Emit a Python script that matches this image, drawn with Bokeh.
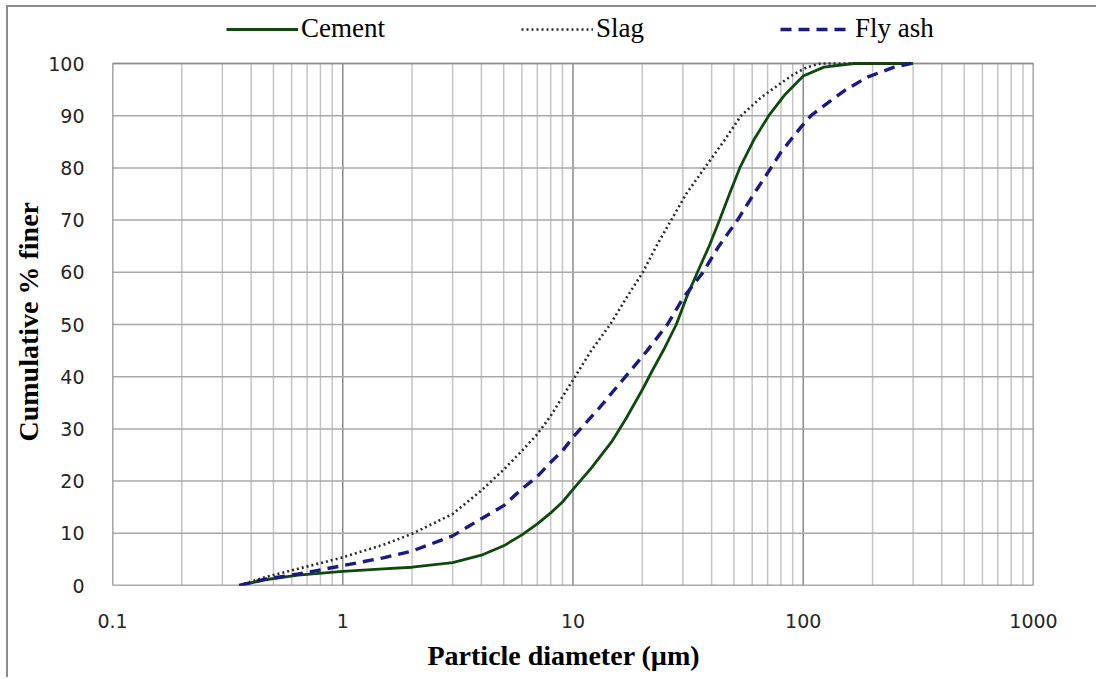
from bokeh.plotting import figure
from bokeh.models import FixedTicker, Legend, LegendItem, Title
from bokeh.embed import file_html
from bokeh.resources import INLINE

# ---- data ----
cement_x = [0.355, 0.46, 0.64, 1, 1.5, 2, 3, 4, 5, 6, 7, 8, 9, 10, 12, 14.7, 17, 20, 22, 25, 28.1, 31, 34.7, 39, 43.3, 48, 53, 61.4, 70.8, 82.8, 100, 123, 166, 220, 300]
cement_y = [0, 1.1, 2.0, 2.7, 3.2, 3.5, 4.4, 5.8, 7.6, 9.7, 11.8, 13.9, 16.0, 18.4, 22.5, 27.5, 32, 37.5, 41, 45.5, 50, 55, 60, 65, 70, 75.2, 80, 85.6, 90, 93.9, 97.6, 99.3, 100, 100, 100]

slag_x = [0.355, 0.46, 0.64, 1, 1.5, 2, 3, 4, 5, 6, 7, 8, 10.2, 12, 14.5, 17, 20.1, 23, 26.7, 31, 37.3, 45, 53.7, 65.6, 77.4, 91.4, 104, 119, 200, 300]
slag_y = [0, 1.6, 3.2, 5.4, 7.8, 9.9, 13.7, 18.2, 22.2, 25.8, 29, 32.5, 40, 45, 50, 55, 60, 65, 70, 75, 80, 85, 90, 93.5, 95.8, 98, 99.3, 100, 100, 100]

fly_x = [0.355, 0.46, 0.64, 1, 1.5, 2, 3, 4, 5, 6, 7, 8, 9, 10, 13, 16.9, 21, 25.7, 30, 36.7, 43, 51.8, 61, 72.4, 80, 97.7, 108, 130, 151, 190, 248, 293]
fly_y = [0, 1.2, 2.2, 3.8, 5.3, 6.6, 9.5, 12.8, 15.3, 18.5, 20.9, 23.6, 25.8, 28.4, 34, 40, 45, 50, 55, 60, 65, 70, 75, 80, 83, 87.8, 90, 92.7, 94.8, 97.4, 99.3, 100]

series_labels = ["Cement", "Slag", "Fly ash"]
x_title = "Particle diameter (µm)"
y_title = "Cumulative % finer"
x_major_ticks = [0.1, 1, 10, 100, 1000]
x_tick_labels = ["0.1", "1", "10", "100", "1000"]
y_ticks = [0, 10, 20, 30, 40, 50, 60, 70, 80, 90, 100]
x_minor_ticks = [m * d for d in [0.1, 1, 10, 100] for m in range(2, 10)]

x_lo, x_hi = x_major_ticks[0], x_major_ticks[-1]
y_lo, y_hi = y_ticks[0], y_ticks[-1]

W, H = 1090, 672
BOTTOM = 94
PLOT_PX = 522            # pixel height of the 0..100 band
frame_h = H - BOTTOM     # frame runs to the top of the canvas (room for legend)
y_end = y_hi * frame_h / PLOT_PX

p = figure(width=W, height=H, x_axis_type="log", x_range=(x_lo, x_hi), y_range=(y_lo, y_end),
           output_backend="svg", toolbar_location=None,
           min_border_left=102, min_border_right=65, min_border_top=0, min_border_bottom=BOTTOM)
p.styles = {"margin-left": "6px", "margin-top": "5px",
            "border-left": "2px solid #8c8c8c", "border-top": "2px solid #8c8c8c"}
p.background_fill_color = "white"
p.border_fill_color = "white"
p.outline_line_color = None
p.xgrid.visible = False
p.ygrid.visible = False

# grid lines limited to the 0..100 band
n_minor = len(x_minor_ticks)
p.segment(x0=x_minor_ticks, x1=x_minor_ticks, y0=[y_lo] * n_minor, y1=[y_hi] * n_minor,
          line_color="#c4c4c4", line_width=1.5)
n_major = len(x_major_ticks)
p.segment(x0=x_major_ticks, x1=x_major_ticks, y0=[y_lo] * n_major, y1=[y_hi] * n_major,
          line_color="#8a8a8a", line_width=1.5)
n_y = len(y_ticks)
p.segment(x0=[x_lo] * n_y, x1=[x_hi] * n_y, y0=y_ticks, y1=y_ticks,
          line_color="#a8a8a8", line_width=1.5)
p.quad(left=[x_lo], right=[x_hi], bottom=[y_lo], top=[y_hi],
       fill_color=None, line_color="#8c8c8c", line_width=1.5)

# axes
p.xaxis.ticker = FixedTicker(ticks=x_major_ticks)
p.xaxis.major_label_overrides = {t: l for t, l in zip(x_major_ticks, x_tick_labels)}
p.yaxis.ticker = FixedTicker(ticks=y_ticks)
for ax in (p.xaxis[0], p.yaxis[0]):
    ax.axis_line_color = None
    ax.major_tick_line_color = None
    ax.minor_tick_line_color = None
    ax.major_label_text_font = "DejaVu Sans"
    ax.major_label_text_font_size = "19px"
    ax.major_label_text_color = "#262626"
p.xaxis.major_label_standoff = 22
p.yaxis.major_label_standoff = 22

# axis titles as side-panel titles, positioned along the 0..100 band
yt = Title(text=y_title, align="left", offset=144, standoff=4,
           text_font="Liberation Serif", text_font_style="bold",
           text_font_size="28px", text_color="#000000")
p.add_layout(yt, "left")
xt = Title(text=x_title, align="left", offset=315, standoff=15,
           text_font="Liberation Serif", text_font_style="bold",
           text_font_size="28px", text_color="#000000")
p.add_layout(xt, "below")

# lines
r_cement = p.line(cement_x, cement_y, line_color="#0e4a0e", line_width=2.8)
r_slag = p.line(slag_x, slag_y, line_color="#2b2b2b", line_width=2.6, line_dash="2 3")
r_fly = p.line(fly_x, fly_y, line_color="#1a1a80", line_width=3.4, line_dash="11 7")

legend = Legend(items=[LegendItem(label=series_labels[0], renderers=[r_cement]),
                       LegendItem(label=series_labels[1], renderers=[r_slag]),
                       LegendItem(label=series_labels[2], renderers=[r_fly])],
                orientation="horizontal", location=(114, 541),
                glyph_width=72, glyph_height=20, label_standoff=3, spacing=136,
                label_text_font="Liberation Serif", label_text_font_size="27px",
                label_text_color="#000000", border_line_color=None,
                background_fill_alpha=0, padding=0, margin=0)
p.add_layout(legend, "center")

open("out.html", "w").write(file_html(p, INLINE))
